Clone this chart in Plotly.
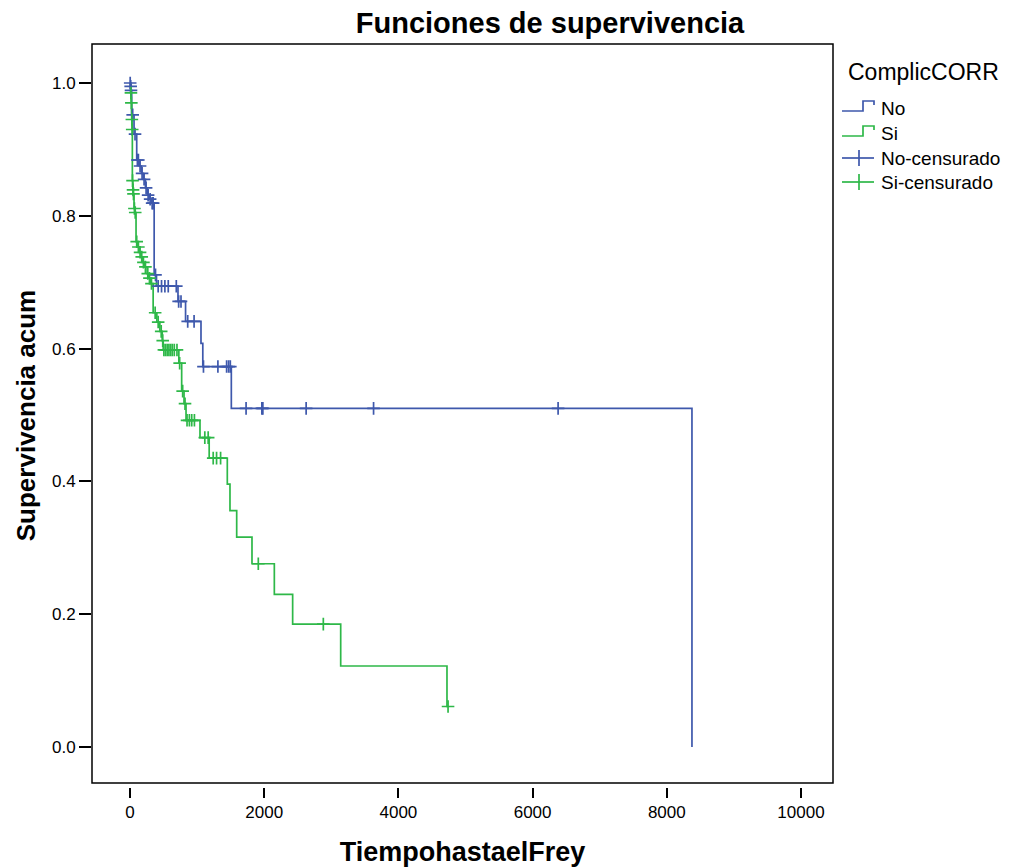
import plotly.graph_objects as go

# Kaplan-Meier estimates per group: event times and survival after each event
no_event_t = [8, 12, 25, 60, 100, 140, 170, 200, 230, 260, 290, 320, 360, 395,
              715, 828, 1058, 1085, 1510, 8375]
no_event_s = [0.995, 0.989, 0.952, 0.923, 0.884, 0.875, 0.864, 0.855, 0.842, 0.831,
              0.825, 0.819, 0.711, 0.694, 0.671, 0.641, 0.608, 0.573, 0.510, 0.0]
no_cens_t = [3, 10, 15, 40, 75, 110, 125, 150, 180, 210, 240, 270, 300, 330, 345,
             380, 420, 470, 520, 570, 690, 725, 760, 860, 955, 1095, 1310, 1440,
             1470, 1495, 1730, 1965, 1980, 2625, 3630, 6380]

si_event_t = [10, 18, 25, 30, 35, 42, 48, 60, 72, 90, 115, 140, 165, 190, 220, 255,
              280, 305, 345, 400, 445, 480, 495, 728, 770, 805, 835, 1043, 1180,
              1450, 1490, 1590, 1818, 2151, 2424, 3140, 4724]
si_event_s = [0.985, 0.970, 0.945, 0.930, 0.853, 0.839, 0.833, 0.811, 0.805, 0.761,
              0.753, 0.745, 0.738, 0.730, 0.723, 0.713, 0.706, 0.698, 0.654, 0.640,
              0.626, 0.612, 0.598, 0.578, 0.536, 0.517, 0.492, 0.466, 0.435, 0.396,
              0.356, 0.316, 0.276, 0.230, 0.185, 0.122, 0.061]
si_cens_t = [14, 20, 28, 33, 38, 45, 52, 66, 78, 100, 125, 150, 175, 200, 230, 265,
             290, 320, 375, 420, 465, 488, 505, 530, 555, 580, 605, 630, 660, 700,
             740, 785, 820, 850, 885, 920, 960, 1115, 1165, 1240, 1290, 1350, 1912,
             2881, 4740]

group_names = ["No", "Si"]
x_ticks = [0, 2000, 4000, 6000, 8000, 10000]
y_ticks = [0.0, 0.2, 0.4, 0.6, 0.8, 1.0]

BLUE = "#3e58ac"
GREEN = "#2eb848"
FONT = "Liberation Sans, Arial, sans-serif"

# pixel geometry of the page
W, H = 1009, 868
L, R, T, B = 92, 833, 44, 787


def level_at(t, ev_t, ev_s):
    s = 1.0
    for et, es in zip(ev_t, ev_s):
        if et <= t:
            s = es
    return s


def step_points(ev_t, ev_s, cens_t):
    xs = [0] + list(ev_t)
    ys = [1.0] + list(ev_s)
    last_c = max(cens_t)
    if last_c > ev_t[-1]:
        xs.append(last_c)
        ys.append(ev_s[-1])
    return xs, ys


groups = [(no_event_t, no_event_s, no_cens_t, BLUE),
          (si_event_t, si_event_s, si_cens_t, GREEN)]

fig = go.Figure()
for ev_t, ev_s, cens_t, color in groups:
    xs, ys = step_points(ev_t, ev_s, cens_t)
    fig.add_trace(go.Scatter(x=xs, y=ys, mode="lines", line_shape="hv",
                             line=dict(color=color, width=1.7), showlegend=False,
                             hoverinfo="skip"))
for ev_t, ev_s, cens_t, color in groups:
    cy = [level_at(t, ev_t, ev_s) for t in cens_t]
    fig.add_trace(go.Scatter(x=cens_t, y=cy, mode="markers", showlegend=False,
                             marker=dict(symbol="cross-thin", size=9,
                                         line=dict(color=color, width=1.7)),
                             hoverinfo="skip"))


def px(x):
    return (x - L) / (R - L)


def py(y):
    return (B - y) / (B - T)


shapes = []
# frame around the plotting area
shapes.append(dict(type="rect", xref="paper", yref="paper", x0=0, x1=1,
                   y0=py(783), y1=1, line=dict(color="black", width=1.5)))

# legend: title, step icons for the curves, crosses for censored cases
leg_font = dict(family=FONT, size=19, color="black")
annotations = []
annotations.append(dict(text="ComplicCORR", xref="paper", yref="paper", x=px(846),
                        y=py(72), xanchor="left", yanchor="middle", showarrow=False,
                        font=dict(family=FONT, size=23, color="black")))
legend_items = [("No", BLUE, "step", 108), ("Si", GREEN, "step", 133),
                ("No-censurado", BLUE, "cross", 158), ("Si-censurado", GREEN, "cross", 182)]
for label, color, kind, yc in legend_items:
    if kind == "step":
        path = (f"M {px(842)} {py(yc + 3)} L {px(863)} {py(yc + 3)} "
                f"L {px(863)} {py(yc - 7)} L {px(874)} {py(yc - 7)} L {px(874)} {py(yc - 3)}")
        shapes.append(dict(type="path", xref="paper", yref="paper", path=path,
                           line=dict(color=color, width=1.7)))
    else:
        shapes.append(dict(type="line", xref="paper", yref="paper", x0=px(842), x1=px(874),
                           y0=py(yc), y1=py(yc), line=dict(color=color, width=1.7)))
        shapes.append(dict(type="line", xref="paper", yref="paper", x0=px(859), x1=px(859),
                           y0=py(yc - 8), y1=py(yc + 8), line=dict(color=color, width=1.7)))
    annotations.append(dict(text=label, xref="paper", yref="paper", x=px(879), y=py(yc),
                            xanchor="left", yanchor="middle", showarrow=False, font=leg_font))

tick_font = dict(family=FONT, size=17, color="black")
fig.update_layout(
    width=W, height=H,
    margin=dict(l=L, r=W - R, t=T, b=H - B, pad=0, autoexpand=False),
    paper_bgcolor="white", plot_bgcolor="white",
    title=dict(text="<b>Funciones de supervivencia</b>", x=550 / W, xanchor="center",
               y=1 - 23 / H, yanchor="middle",
               font=dict(family=FONT, size=29, color="black")),
    xaxis=dict(range=[(L - 130) / 0.0671, (R - 130) / 0.0671], tickvals=x_ticks,
               ticktext=[str(v) for v in x_ticks], showgrid=False, zeroline=False,
               showline=False, ticks="outside", ticklen=10, tickwidth=1.5,
               tickcolor="black", tickfont=tick_font, automargin=False,
               title=dict(text="<b>TiempohastaelFrey</b>", standoff=20,
                          font=dict(family=FONT, size=27, color="black"))),
    yaxis=dict(range=[-(B - 747) / 664, 1.0 + (83 - T) / 664], tickvals=y_ticks,
               ticktext=[f"{v:.1f}" for v in y_ticks], showgrid=False, zeroline=False,
               showline=False, ticks="outside", ticklen=12, tickwidth=1.5,
               tickcolor="black", tickfont=tick_font, automargin=False,
               title=dict(text="<b>Supervivencia acum</b>", standoff=8,
                          font=dict(family=FONT, size=26, color="black"))),
    shapes=shapes, annotations=annotations,
)

fig.write_html("out.html")
